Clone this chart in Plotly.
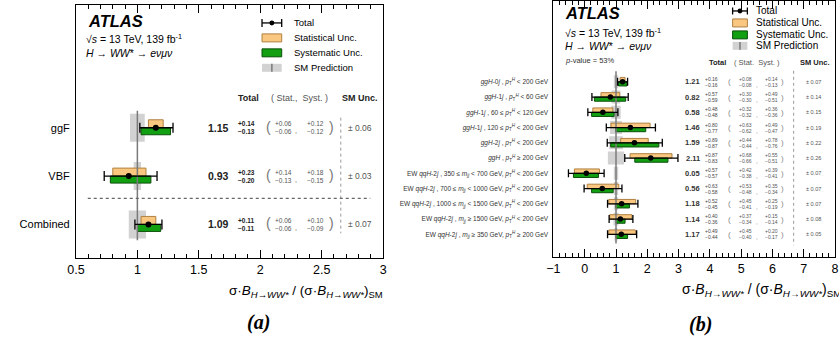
import plotly.graph_objects as go

W, H = 839, 338
def px(x): return x / W
def py(y): return 1 - y / H

SM_VALUE = 1.0

# ---------------- Panel (a) data ----------------
cats_a = ["ggF", "VBF", "Combined"]
mu_a = [1.15, 0.93, 1.09]
tot_up_a = [0.14, 0.23, 0.11]
tot_dn_a = [0.13, 0.20, 0.11]
stat_up_a = [0.06, 0.14, 0.06]
stat_dn_a = [0.06, 0.13, 0.06]
syst_up_a = [0.12, 0.18, 0.10]
syst_dn_a = [0.12, 0.15, 0.09]
sm_unc_a = [0.06, 0.03, 0.07]
xticks_a = [0.5, 1, 1.5, 2, 2.5, 3]
xticklabels_a = ["0.5", "1", "1.5", "2", "2.5", "3"]

# ---------------- Panel (b) data ----------------
cats_b = [
    "<i>ggH</i>-0<i>j</i> , <i>p</i><sub>T</sub><sup><i>H</i></sup> &lt; 200 GeV",
    "<i>ggH</i>-1<i>j</i> , <i>p</i><sub>T</sub><sup><i>H</i></sup> &lt; 60 GeV",
    "<i>ggH</i>-1<i>j</i> , 60 ≤ <i>p</i><sub>T</sub><sup><i>H</i></sup> &lt; 120 GeV",
    "<i>ggH</i>-1<i>j</i> , 120 ≤ <i>p</i><sub>T</sub><sup><i>H</i></sup> &lt; 200 GeV",
    "<i>ggH</i>-2<i>j</i> , <i>p</i><sub>T</sub><sup><i>H</i></sup> &lt; 200 GeV",
    "<i>ggH</i> , <i>p</i><sub>T</sub><sup><i>H</i></sup> ≥ 200 GeV",
    "EW <i>qqH</i>-2<i>j</i> , 350 ≤ <i>m</i><sub><i>jj</i></sub> &lt; 700 GeV, <i>p</i><sub>T</sub><sup><i>H</i></sup> &lt; 200 GeV",
    "EW <i>qqH</i>-2<i>j</i> , 700 ≤ <i>m</i><sub><i>jj</i></sub> &lt; 1000 GeV, <i>p</i><sub>T</sub><sup><i>H</i></sup> &lt; 200 GeV",
    "EW <i>qqH</i>-2<i>j</i> , 1000 ≤ <i>m</i><sub><i>jj</i></sub> &lt; 1500 GeV, <i>p</i><sub>T</sub><sup><i>H</i></sup> &lt; 200 GeV",
    "EW <i>qqH</i>-2<i>j</i> , <i>m</i><sub><i>jj</i></sub> ≥ 1500 GeV, <i>p</i><sub>T</sub><sup><i>H</i></sup> &lt; 200 GeV",
    "EW <i>qqH</i>-2<i>j</i> , <i>m</i><sub><i>jj</i></sub> ≥ 350 GeV, <i>p</i><sub>T</sub><sup><i>H</i></sup> ≥ 200 GeV",
]
mu_b = [1.21, 0.82, 0.58, 1.46, 1.59, 2.11, 0.05, 0.56, 1.18, 1.14, 1.17]
tot_up_b = [0.16, 0.57, 0.48, 0.80, 0.89, 0.87, 0.57, 0.63, 0.52, 0.40, 0.49]
tot_dn_b = [0.16, 0.59, 0.48, 0.77, 0.87, 0.83, 0.57, 0.58, 0.45, 0.36, 0.44]
stat_up_b = [0.08, 0.30, 0.32, 0.63, 0.44, 0.68, 0.42, 0.53, 0.45, 0.37, 0.45]
stat_dn_b = [0.08, 0.30, 0.32, 0.62, 0.44, 0.66, 0.38, 0.48, 0.41, 0.34, 0.40]
syst_up_b = [0.14, 0.49, 0.36, 0.49, 0.78, 0.55, 0.39, 0.35, 0.25, 0.15, 0.20]
syst_dn_b = [0.13, 0.51, 0.36, 0.47, 0.76, 0.51, 0.41, 0.34, 0.19, 0.14, 0.17]
sm_unc_b = [0.07, 0.14, 0.15, 0.19, 0.22, 0.26, 0.07, 0.07, 0.07, 0.08, 0.05]
xticks_b = [-1, 0, 1, 2, 3, 4, 5, 6, 7, 8]
xticklabels_b = ["\u22121", "0", "1", "2", "3", "4", "5", "6", "7", "8"]
p_value_text = "<i>p</i>-value = 53%"

# ---------------- styles ----------------
FONT = "Liberation Sans, Arial, sans-serif"
STAT_FILL, STAT_LINE = "#f9c77f", "#b08040"
SYST_FILL, SYST_LINE = "#12a012", "#0b4f0b"
SM_FILL, SM_LINE = "#d2d2d2", "#7a7a7a"

rows_a = [len(cats_a) - 1 - i for i in range(len(cats_a))]
rows_b = [len(cats_b) - 1 - i for i in range(len(cats_b))]

fig = go.Figure()

def add_panel(rows, mu, tu, td, su, sd, yu, yd, sm, xa, ya, gray_w, stat_w, syst_w,
              msize, capw, line_ext):
    fig.add_trace(go.Bar(orientation="h", y=rows, x=[2 * s for s in sm],
                         base=[SM_VALUE - s for s in sm], width=gray_w,
                         marker=dict(color=SM_FILL, line=dict(width=0)),
                         xaxis=xa, yaxis=ya, hoverinfo="skip"))
    fig.add_trace(go.Scatter(x=[SM_VALUE, SM_VALUE],
                             y=[min(rows) - line_ext[0], max(rows) + line_ext[1]],
                             mode="lines", line=dict(color=SM_LINE, width=1.5),
                             xaxis=xa, yaxis=ya, hoverinfo="skip"))
    fig.add_trace(go.Bar(orientation="h", y=[r + stat_w / 2 for r in rows],
                         x=[a + b for a, b in zip(su, sd)],
                         base=[m - d for m, d in zip(mu, sd)], width=stat_w,
                         marker=dict(color=STAT_FILL, line=dict(color=STAT_LINE, width=1)),
                         xaxis=xa, yaxis=ya, hoverinfo="skip"))
    fig.add_trace(go.Bar(orientation="h", y=[r - syst_w / 2 for r in rows],
                         x=[a + b for a, b in zip(yu, yd)],
                         base=[m - d for m, d in zip(mu, yd)], width=syst_w,
                         marker=dict(color=SYST_FILL, line=dict(color=SYST_LINE, width=1)),
                         xaxis=xa, yaxis=ya, hoverinfo="skip"))
    fig.add_trace(go.Scatter(x=mu, y=rows, mode="markers",
                             marker=dict(color="black", size=msize),
                             error_x=dict(type="data", symmetric=False, array=tu,
                                          arrayminus=td, color="black",
                                          thickness=1.3, width=capw),
                             xaxis=xa, yaxis=ya, hoverinfo="skip"))

add_panel(rows_a, mu_a, tot_up_a, tot_dn_a, stat_up_a, stat_dn_a, syst_up_a, syst_dn_a,
          sm_unc_a, "x", "y", 0.58, 0.165, 0.145, 6, 5, (0.33, 0.35))
add_panel(rows_b, mu_b, tot_up_b, tot_dn_b, stat_up_b, stat_dn_b, syst_up_b, syst_dn_b,
          sm_unc_b, "x2", "y2", 0.85, 0.29, 0.27, 5.5, 4, (0.6, 0.7))

ann = []
shapes = []

def T(x, y, text, size, color="black", xanchor="center", yref="paper", yshift=0,
      family=FONT):
    ann.append(dict(x=px(x), y=(py(y) if yref == "paper" else y), xref="paper",
                    yref=yref, text=text, showarrow=False, xanchor=xanchor,
                    yanchor="middle", yshift=yshift,
                    font=dict(family=family, size=size, color=color)))

def fmt(v):
    return f"{v:.2f}"

# ---- panel (a) texts ----
T(78, 20, "<b><i>ATLAS</i></b>", 16.5, xanchor="left")
T(76, 38, "√<i>s</i> = 13 TeV, 139 fb<sup>-1</sup>", 10.5, xanchor="left")
T(76, 52, "<i>H</i> → <i>WW</i>* → <i>eνμν</i>", 10.5, xanchor="left")
T(287, 22, "Total", 9.5, xanchor="left")
T(287, 37, "Statistical Unc.", 9.5, xanchor="left")
T(287, 52, "Systematic Unc.", 9.5, xanchor="left")
T(287, 67, "SM Prediction", 9.5, xanchor="left")
T(243, 97, "<b>Total</b>", 9, "#222")
T(295, 97, "( Stat.,  Syst. )", 9, "#555")
T(357, 97, "<b>SM Unc.</b>", 9, "#222")
for r, m, tu, td, su, sd, yu, yd, s in zip(rows_a, mu_a, tot_up_a, tot_dn_a, stat_up_a,
                                           stat_dn_a, syst_up_a, syst_dn_a, sm_unc_a):
    T(226, r, f"<b>{fmt(m)}</b>", 10.5, "#222", xanchor="right", yref="y")
    T(241, r, f"<b>+{fmt(tu)}</b>", 6.5, "#222", yref="y", yshift=4)
    T(241, r, f"<b>\u2212{fmt(td)}</b>", 6.5, "#222", yref="y", yshift=-4)
    T(264, r, "(", 14, "#777", yref="y", yshift=1)
    T(279, r, f"+{fmt(su)}", 6.5, "#555", yref="y", yshift=4)
    T(279, r, f"\u2212{fmt(sd)}", 6.5, "#555", yref="y", yshift=-4)
    T(292, r, ",", 7, "#555", yref="y", yshift=-3)
    T(311, r, f"+{fmt(yu)}", 6.5, "#555", yref="y", yshift=4)
    T(311, r, f"\u2212{fmt(yd)}", 6.5, "#555", yref="y", yshift=-4)
    T(328, r, ")", 14, "#777", yref="y", yshift=1)
    T(357, r, f"± {fmt(s)}", 8.5, "#555", yref="y")
T(382, 291, "σ·<i>B</i><sub><i>H→WW*</i></sub> / (σ·<i>B</i><sub><i>H→WW*</i></sub>)<sub>SM</sub>",
  13.5, xanchor="right")
T(253, 322, "<b><i>(a)</i></b>", 20, family="Liberation Serif, Times New Roman, serif")

# ---- panel (b) texts ----
T(563, 12, "<b><i>ATLAS</i></b>", 16.5, xanchor="left")
T(563, 32, "√<i>s</i> = 13 TeV, 139 fb<sup>-1</sup>", 10.5, xanchor="left")
T(563, 45, "<i>H</i> → <i>WW</i>* → <i>eνμν</i>", 10.5, xanchor="left")
T(563, 60, p_value_text, 7.5, "#333", xanchor="left")
T(757, 10, "Total", 10, xanchor="left")
T(757, 22, "Statistical Unc.", 10, xanchor="left")
T(757, 34, "Systematic Unc.", 10, xanchor="left")
T(757, 45, "SM Prediction", 10, xanchor="left")
T(720, 62, "<b>Total</b>", 7.5, "#222")
T(760, 62, "( Stat.  Syst. )", 7.5, "#555")
T(819, 62, "<b>SM Unc.</b>", 7.5, "#222")
for r, m, tu, td, su, sd, yu, yd, s in zip(rows_b, mu_b, tot_up_b, tot_dn_b, stat_up_b,
                                           stat_dn_b, syst_up_b, syst_dn_b, sm_unc_b):
    T(704, r, f"<b>{fmt(m)}</b>", 7.5, "#333", xanchor="right", yref="y2")
    T(714, r, f"+{fmt(tu)}", 5, "#444", yref="y2", yshift=3)
    T(714, r, f"\u2212{fmt(td)}", 5, "#444", yref="y2", yshift=-3)
    T(732, r, "(", 8, "#888", yref="y2")
    T(748, r, f"+{fmt(su)}", 5, "#555", yref="y2", yshift=3)
    T(748, r, f"\u2212{fmt(sd)}", 5, "#555", yref="y2", yshift=-3)
    T(760, r, ",", 5.5, "#555", yref="y2", yshift=-3)
    T(774, r, f"+{fmt(yu)}", 5, "#555", yref="y2", yshift=3)
    T(774, r, f"\u2212{fmt(yd)}", 5, "#555", yref="y2", yshift=-3)
    T(786, r, ")", 8, "#888", yref="y2")
    T(817, r, f"± {fmt(s)}", 5.5, "#555", yref="y2")
T(682, 290, "σ·<i>B</i><sub><i>H→WW*</i></sub> / (σ·<i>B</i><sub><i>H→WW*</i></sub>)<sub>SM</sub>",
  14, xanchor="left")
T(702, 324, "<b><i>(b)</i></b>", 20, family="Liberation Serif, Times New Roman, serif")

# ---- decorations (legend symbols, separators) ----
def rect(x0, y0, x1, y1, fill, line=None, lw=1):
    shapes.append(dict(type="rect", xref="paper", yref="paper", x0=px(x0), x1=px(x1),
                       y0=py(y0), y1=py(y1), fillcolor=fill,
                       line=dict(color=line or fill, width=lw if line else 0)))

def seg(x0, y0, x1, y1, color="black", width=1, dash=None):
    shapes.append(dict(type="line", xref="paper", yref="paper", x0=px(x0), x1=px(x1),
                       y0=py(y0), y1=py(y1), line=dict(color=color, width=width, dash=dash)))

def dot(x, y, r):
    shapes.append(dict(type="circle", xref="paper", yref="paper", x0=px(x - r),
                       x1=px(x + r), y0=py(y + r), y1=py(y - r), fillcolor="black",
                       line=dict(color="black", width=0)))

def legend(x0, x1, ys, box_h, cap_h):
    xc = (x0 + x1) / 2
    seg(x0, ys[0], x1, ys[0], width=1.3)
    seg(x0, ys[0] - cap_h / 2, x0, ys[0] + cap_h / 2, width=1.3)
    seg(x1, ys[0] - cap_h / 2, x1, ys[0] + cap_h / 2, width=1.3)
    dot(xc, ys[0], 2.5)
    rect(x0, ys[1] - box_h / 2, x1, ys[1] + box_h / 2, STAT_FILL, STAT_LINE)
    rect(x0, ys[2] - box_h / 2, x1, ys[2] + box_h / 2, SYST_FILL, SYST_LINE)
    rect(x0, ys[3] - box_h / 2, x1, ys[3] + box_h / 2, SM_FILL)
    seg(xc, ys[3] - box_h / 2, xc, ys[3] + box_h / 2, SM_LINE, 1.5)

legend(257, 277, [22, 37, 52, 67], 8, 8)
legend(735, 750, [10, 22, 34, 45], 8, 7)
seg(337, 117, 337, 233, "#999", 1, "dot")
seg(797, 70, 797, 245, "#999", 1, "dot")
seg(80, 198, 367, 198, "#666", 1.3, "dot")

axis_common = dict(showline=True, linecolor="black", linewidth=1, mirror="ticks",
                   showgrid=False, zeroline=False, ticks="inside", tickcolor="black",
                   tickfont=dict(family=FONT, size=12.5, color="black"))

fig.update_layout(
    width=W, height=H, margin=dict(l=0, r=0, t=0, b=0),
    paper_bgcolor="white", plot_bgcolor="white", showlegend=False, barmode="overlay",
    annotations=ann, shapes=shapes,
    xaxis=dict(domain=[px(68), px(380)], range=[0.5, 3.0001], anchor="y",
               tickvals=xticks_a, ticktext=xticklabels_a, ticklen=8,
               minor=dict(dtick=0.1, tick0=0, ticklen=4, ticks="inside", tickcolor="black"),
               **axis_common),
    yaxis=dict(domain=[py(258), py(4)], range=[-0.70, 4.54], anchor="x",
               tickvals=rows_a, ticktext=cats_a, showline=True, linecolor="black",
               mirror=True, showgrid=False, zeroline=False, ticks="",
               ticklabelstandoff=3,
               tickfont=dict(family=FONT, size=11, color="black")),
    xaxis2=dict(domain=[px(553), 1.0], range=[-1, 8.0001], anchor="y2",
                tickvals=xticks_b, ticktext=xticklabels_b, ticklen=8,
                minor=dict(dtick=0.2, tick0=0, ticklen=4, ticks="inside", tickcolor="black"),
                **axis_common),
    yaxis2=dict(domain=[py(257), 1.0], range=[-1.5, 15.3], anchor="x2",
                tickvals=rows_b, ticktext=cats_b, showline=True, linecolor="black",
                mirror=True, showgrid=False, zeroline=False, ticks="",
                ticklabelstandoff=3,
                tickfont=dict(family=FONT, size=6.5, color="#333")),
)

fig.write_html("out.html")
